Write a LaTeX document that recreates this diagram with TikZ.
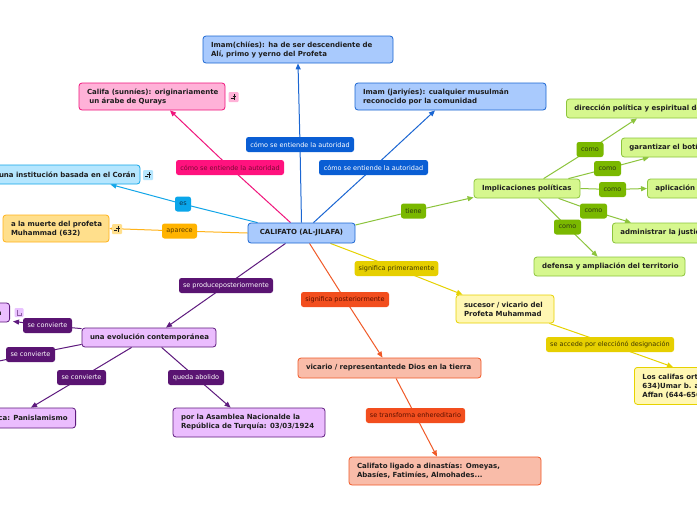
\documentclass[tikz,border=0pt]{standalone}
\usepackage{fontspec}
\setmainfont{DejaVu Sans}
\usetikzlibrary{arrows.meta,calc,backgrounds}
\definecolor{ink}{HTML}{1E1E1E}
\definecolor{bluF}{HTML}{A9CAFD}
\definecolor{bluD}{HTML}{1B66D2}
\definecolor{bluL}{HTML}{0A5ED4}
\definecolor{pnkF}{HTML}{FFB2D8}
\definecolor{pnkD}{HTML}{F0157C}
\definecolor{pnkL}{HTML}{FF127E}
\definecolor{pnkT}{HTML}{7A0A34}
\definecolor{cyaF}{HTML}{B5E6FE}
\definecolor{cyaD}{HTML}{13A6E8}
\definecolor{cyaL}{HTML}{0AA6EA}
\definecolor{cyaT}{HTML}{0B3550}
\definecolor{ambF}{HTML}{FFDF8C}
\definecolor{ambD}{HTML}{FFB31A}
\definecolor{ambL}{HTML}{FFB300}
\definecolor{ambT}{HTML}{5A3A00}
\definecolor{grnF}{HTML}{D6F78E}
\definecolor{grnD}{HTML}{8CC43C}
\definecolor{grnL}{HTML}{7AB800}
\definecolor{grnT}{HTML}{2E3B12}
\definecolor{yelF}{HTML}{FFF7B3}
\definecolor{yelD}{HTML}{E6D200}
\definecolor{yelL}{HTML}{E6CF00}
\definecolor{yelT}{HTML}{403800}
\definecolor{orgF}{HTML}{F9BCA9}
\definecolor{orgD}{HTML}{F05A28}
\definecolor{orgL}{HTML}{F24E1E}
\definecolor{orgT}{HTML}{5A1000}
\definecolor{purF}{HTML}{EBBDFE}
\definecolor{purD}{HTML}{5E1A7E}
\definecolor{purL}{HTML}{5A1472}
\definecolor{lavI}{HTML}{E9C2FF}
\tikzset{
  box/.style={draw, rounded corners=3pt, line width=0.8pt, inner xsep=8pt, inner ysep=2pt,
    font=\fontsize{7}{9}\selectfont\bfseries, text=ink, align=left},
  lab/.style={rounded corners=2.5pt, inner xsep=4pt, inner ysep=1pt, minimum height=15pt,
    font=\fontsize{6.5}{7.5}\selectfont},
  con/.style={line width=1pt},
  arr/.style={-{Triangle[length=6pt,width=5pt]}},
  ico/.style={minimum size=10pt, inner sep=0pt, rounded corners=1pt},
}
\begin{document}
\begin{tikzpicture}[x=1pt,y=-1pt]
\useasboundingbox (0,0) rectangle (697,520);
\clip (0,0) rectangle (697,520);
% ---------- boxes ----------
\node[box, fill=bluF, draw=bluD, minimum width=107pt, minimum height=20pt, align=center] (main) at (301.5,233) {CALIFATO (AL-JILAFA)};
\node[box, fill=bluF, draw=bluD, text width=174pt, minimum height=27pt] (chi) at (298,49.5)
  {\mbox{Imam(chiíes): ha de ser descendiente de}\\\mbox{Alí, primo y yerno del Profeta}};
\node[box, fill=bluF, draw=bluD, text width=175pt, minimum height=27pt] (jar) at (450.5,96.5)
  {\mbox{Imam (jariyíes): cualquier musulmán}\\\mbox{reconocido por la comunidad}};
\node[box, fill=pnkF, draw=pnkD, text width=130pt, minimum height=27pt] (sun) at (152,96.5)
  {\mbox{Califa (sunníes): originariamente}\\\mbox{\ un árabe de Qurays}};
\node[box, fill=cyaF, draw=cyaD, text width=133pt, minimum height=19pt] (inst) at (65.5,174.5)
  {\mbox{una institución basada en el Corán}};
\node[box, fill=ambF, draw=ambD, text width=90pt, minimum height=27pt] (muerte) at (56,228.5)
  {\mbox{a la muerte del profeta}\\\mbox{Muhammad (632)}};
\node[box, fill=purF, draw=purD, text width=118pt, minimum height=19pt] (evo) at (149,337.5)
  {\mbox{una evolución contemporánea}};
\node[box, fill=purF, draw=purD, minimum height=19pt, anchor=east] (simb) at (10,312.5)
  {una referencia simbólica};
\node[box, fill=purF, draw=purD, minimum height=20pt, anchor=east] (pan) at (76,418)
  {una ideología política: Panislamismo};
\node[box, fill=purF, draw=purD, text width=136pt, minimum height=29pt] (asam) at (249,422.5)
  {\mbox{por la Asamblea Nacionalde la}\\\mbox{República de Turquía: 03/03/1924}};
\node[box, fill=orgF, draw=orgD, text width=167pt, minimum height=20pt] (vic) at (389.5,368)
  {\mbox{vicario / representantede Dios en la tierra}};
\node[box, fill=orgF, draw=orgD, text width=176pt, minimum height=28pt] (din) at (445,471)
  {\mbox{Califato ligado a dinastías: Omeyas,}\\\mbox{Abasíes, Fatimíes, Almohades...}};
\node[box, fill=yelF, draw=yelD, text width=82pt, minimum height=28pt] (suc) at (505,309)
  {\mbox{sucesor / vicario del}\\\mbox{Profeta Muhammad}};
\node[box, fill=yelF, draw=yelD, minimum height=37pt, anchor=north west] (orto) at (634,367)
  {Los califas ortodoxos: Abu Bakr (632-\\634)Umar b. al-Jattab (634-644)Uthman b.\\Affan (644-656), Ali (656-661)};
\node[box, fill=grnF, draw=grnD, text width=90pt, minimum height=19pt] (impl) at (527,188.5)
  {\mbox{Implicaciones políticas}};
\node[box, fill=grnF, draw=grnD, minimum height=19pt, anchor=west] (dir) at (566,108.5)
  {dirección política y espiritual de la comunidad};
\node[box, fill=grnF, draw=grnD, minimum height=19pt, anchor=west] (bot) at (621,147.5)
  {garantizar el botín};
\node[box, fill=grnF, draw=grnD, minimum height=19pt, anchor=west] (apl) at (647,188.5)
  {aplicación de la ley};
\node[box, fill=grnF, draw=grnD, minimum height=20pt, anchor=west] (adm) at (612,233)
  {administrar la justicia};
\node[box, fill=grnF, draw=grnD, text width=135pt, minimum height=19pt] (def) at (609.5,266.5)
  {\mbox{defensa y ampliación del territorio}};
\coordinate (hid) at (-25,366);
% ---------- icons ----------
\node[ico, fill=pnkF] (i1) at (233.5,97) {};
\node[ico, fill=cyaF] (i2) at (148,175) {};
\node[ico, fill=ambF] (i3) at (117,229) {};
\node[ico, fill=lavI, minimum size=9pt] (i4) at (19,312.5) {};
\foreach \i in {i1,i2,i3}{
  \draw[ink, line width=0.6pt] ($(\i.center)+(-3,1)$) -- ($(\i.center)+(0,1)$);
  \draw[ink, line width=0.6pt] ($(\i.center)+(1,-3)$) -- ($(\i.center)+(1,2.5)$);
  \draw[ink, line width=0.6pt] ($(\i.center)+(-1,-1)$) -- ($(\i.center)+(2.5,-1)$);
}
\draw[purD!70, line width=0.5pt] ($(i4.center)+(-2,-3)$) -- ($(i4.center)+(-2,3)$) -- ($(i4.center)+(2,3)$) -- ($(i4.center)+(2,0)$);
% ---------- labels ----------
\node[lab, fill=bluL, text=white, minimum width=108pt] (lchi) at (300,144.5) {cómo se entiende la autoridad};
\node[lab, fill=pnkL, text=pnkT, minimum width=108pt] (lsun) at (230,167.5) {cómo se entiende la autoridad};
\node[lab, fill=bluL, text=white, minimum width=109pt] (ljar) at (373.5,167.5) {cómo se entiende la autoridad};
\node[lab, fill=cyaL, text=cyaT, minimum width=16pt] (les) at (183,204) {es};
\node[lab, fill=ambL, text=ambT, minimum width=35pt] (lapa) at (179.5,231) {aparece};
\node[lab, fill=grnL, text=grnT, minimum width=25pt] (ltie) at (413.5,211) {tiene};
\node[lab, fill=grnL, text=grnT, minimum width=27pt] (lc1) at (590,149.5) {como};
\node[lab, fill=grnL, text=grnT, minimum width=27pt] (lc2) at (607.5,168.5) {como};
\node[lab, fill=grnL, text=grnT, minimum width=27pt] (lc3) at (612.5,189.5) {como};
\node[lab, fill=grnL, text=grnT, minimum width=27pt] (lc4) at (593.5,211) {como};
\node[lab, fill=grnL, text=grnT, minimum width=27pt] (lc5) at (567.5,227) {como};
\node[lab, fill=yelL, text=yelT, minimum width=83pt] (lpri) at (396.5,268.5) {significa primeramente};
\node[lab, fill=orgL, text=orgT, minimum width=88pt] (lpos) at (345,299.5) {significa posteriormente};
\node[lab, fill=purL, text=white, minimum width=94pt] (lprod) at (226,285.5) {se produceposteriormente};
\node[lab, fill=purL, text=white, minimum width=49pt] (lsc1) at (47.5,325.5) {se convierte};
\node[lab, fill=purL, text=white, minimum width=49pt] (lsc2) at (30.5,354.5) {se convierte};
\node[lab, fill=purL, text=white, minimum width=49pt] (lsc3) at (81.5,377.5) {se convierte};
\node[lab, fill=purL, text=white, minimum width=56pt] (labo) at (196,377.5) {queda abolido};
\node[lab, fill=yelL, text=yelT, minimum width=128pt] (lacc) at (610,344.5) {se accede por elecciónó designación};
\node[lab, fill=orgL, text=orgT, minimum width=99pt] (lher) at (415.5,415.5) {se transforma enhereditario};
% ---------- connectors ----------
\begin{scope}[on background layer]
\clip (0,0) rectangle (697,520);
\fill[white] (0,0) rectangle (697,520);
\draw[con, bluD, arr] (main.north) -- (lchi.center) -- (chi.south);
\draw[con, bluD, arr] ($(main.north)+(12,0)$) -- (ljar.center) -- ($(jar.south)+(-15.5,0)$);
\draw[con, pnkD, arr] ($(main.north)+(-11,0)$) -- (lsun.center) -- ($(sun.south)+(18,0)$);
\draw[con, cyaD, arr] ($(main.north west)+(10,0)$) -- (les.center) -- ($(inst.south east)+(-30,0)$);
\draw[con, ambD, arr] (main.west) -- (lapa.center) -- (muerte.east);
\draw[con, grnD, arr] ($(main.east)+(0,-8)$) -- (ltie.center) -- ($(impl.south west)+(0,-1)$);
\draw[con, yelD, arr] ($(main.south east)+(-25,0)$) -- (lpri.center) -- ($(suc.north west)+(7,0)$);
\draw[con, orgD, arr] ($(main.south)+(8,0)$) -- (lpos.center) -- ($(vic.north)+(-7,0)$);
\draw[con, purD, arr] ($(main.south)+(-16,0)$) -- (lprod.center) -- ($(evo.north)+(17,0)$);
\draw[con, purD, arr] ($(evo.north west)+(0,1)$) -- (lsc1.center) -- ($(simb.south east)+(3,-1)$);
\draw[con, purD, arr] ($(evo.south west)+(0,-3)$) -- (lsc2.center) -- (hid);
\draw[con, purD, arr] ($(evo.south west)+(50,0)$) -- (lsc3.center) -- ($(pan.north east)+(-45,0)$);
\draw[con, purD, arr] ($(evo.south west)+(80,0)$) -- (labo.center) -- ($(asam.north west)+(58,0)$);
\draw[con, orgD, arr] ($(vic.south)+(6.5,0)$) -- (lher.center) -- ($(din.north)+(-8,0)$);
\draw[con, yelD, arr] ($(suc.south east)+(-5,0)$) -- (lacc.center) -- ($(orto.north west)+(39,0)$);
\draw[con, grnD, arr] ($(impl.north west)+(70,0)$) -- (lc1.center) -- ($(dir.south west)+(71,0)$);
\draw[con, grnD, arr] ($(impl.north east)+(-12,0)$) -- (lc2.center) -- ($(bot.south west)+(28,0)$);
\draw[con, grnD, arr] (impl.east) -- (lc3.center) -- (apl.west);
\draw[con, grnD, arr] ($(impl.south west)+(85,0)$) -- (lc4.center) -- ($(adm.north west)+(19,0)$);
\draw[con, grnD, arr] ($(impl.south west)+(65,0)$) -- (lc5.center) -- ($(def.north west)+(64,0)$);
\end{scope}
\end{tikzpicture}
\end{document}
